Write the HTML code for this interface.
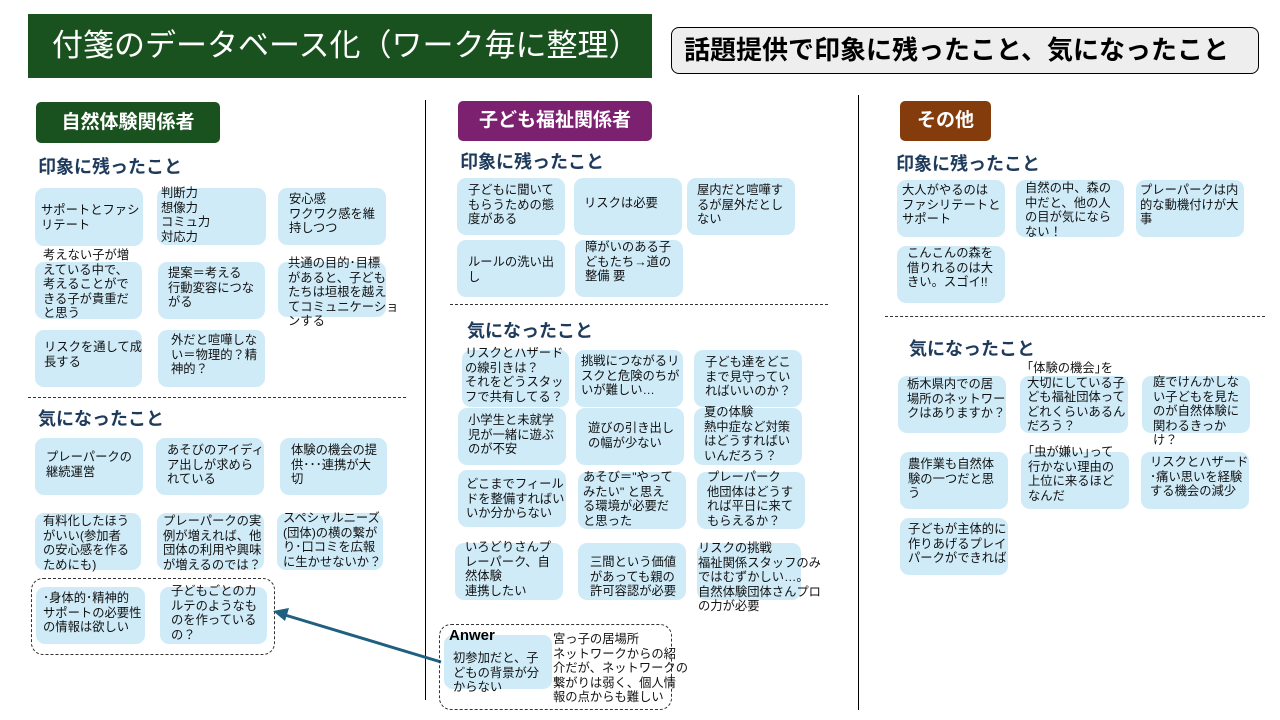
<!DOCTYPE html>
<html><head><meta charset="utf-8"><style>
body{margin:0;width:1280px;height:720px;background:#fff;position:relative;overflow:hidden;font-family:"Liberation Sans","Noto Sans CJK JP",sans-serif;}
.b{position:absolute;background:#cfebf8;border-radius:9px;}
.t{position:absolute;font-size:12.3px;line-height:14.6px;color:#111;white-space:nowrap;}
.h{position:absolute;font-size:18px;font-weight:bold;color:#1f3b5c;}
.cat{position:absolute;color:#fff;font-size:19px;font-weight:bold;border-radius:5px;text-align:center;line-height:41px;}
.dl{position:absolute;border-top:1.5px dashed #333;height:0;}
.vl{position:absolute;width:1px;background:#000;}
.grp{position:absolute;border:1.2px dashed #333;border-radius:12px;}
</style></head><body>
<div style="position:absolute;left:28px;top:14px;width:624px;height:64px;background:#1a521f;color:#fff;font-size:31px;line-height:64px;padding-left:24px;box-sizing:border-box;white-space:nowrap;">付箋のデータベース化（ワーク毎に整理）</div>
<div style="position:absolute;left:671px;top:27px;width:588px;height:47px;background:#eeeeee;border:1.5px solid #000;border-radius:8px;box-sizing:border-box;font-size:26px;font-weight:bold;line-height:44px;padding-left:12px;white-space:nowrap;">話題提供で印象に残ったこと、気になったこと</div>
<div class="vl" style="left:425px;top:100px;height:600px"></div>
<div class="vl" style="left:858px;top:95px;height:615px"></div>

<!-- left -->
<div class="cat" style="left:36px;top:102px;width:184px;height:41px;background:#1a521f">自然体験関係者</div>
<div class="h" style="left:38px;top:153px">印象に残ったこと</div>
<div class="b" style="left:35px;top:188px;width:108px;height:58px"></div><div class="t" style="left:41px;top:203px">サポートとファシ<br>リテート</div>
<div class="b" style="left:157px;top:188px;width:109px;height:57px"></div><div class="t" style="left:161px;top:186px">判断力<br>想像力<br>コミュ力<br>対応力</div>
<div class="b" style="left:278px;top:188px;width:108px;height:57px"></div><div class="t" style="left:289px;top:192px">安心感<br>ワクワク感を維<br>持しつつ</div>
<div class="b" style="left:35px;top:262px;width:107px;height:57px"></div><div class="t" style="left:43px;top:248px">考えない子が増<br>えている中で、<br>考えることがで<br>きる子が貴重だ<br>と思う</div>
<div class="b" style="left:158px;top:262px;width:107px;height:57px"></div><div class="t" style="left:168px;top:266px">提案＝考える<br>行動変容につな<br>がる</div>
<div class="b" style="left:278px;top:262px;width:108px;height:55px"></div><div class="t" style="left:288px;top:256px">共通の目的･目標<br>があると、子ども<br>たちは垣根を越え<br>てコミュニケーショ<br>ンする</div>
<div class="b" style="left:35px;top:330px;width:107px;height:57px"></div><div class="t" style="left:44px;top:340px">リスクを通して成<br>長する</div>
<div class="b" style="left:158px;top:330px;width:107px;height:57px"></div><div class="t" style="left:171px;top:333px">外だと喧嘩しな<br>い＝物理的？精<br>神的？</div>
<div class="dl" style="left:28px;top:397px;width:378px"></div>
<div class="h" style="left:38px;top:405px">気になったこと</div>
<div class="b" style="left:35px;top:438px;width:108px;height:57px"></div><div class="t" style="left:46px;top:450px">プレーパークの<br>継続運営</div>
<div class="b" style="left:156px;top:438px;width:108px;height:57px"></div><div class="t" style="left:167px;top:443px">あそびのアイディ<br>ア出しが求めら<br>れている</div>
<div class="b" style="left:280px;top:438px;width:107px;height:57px"></div><div class="t" style="left:291px;top:443px">体験の機会の提<br>供･･･連携が大<br>切</div>
<div class="b" style="left:35px;top:513px;width:106px;height:57px"></div><div class="t" style="left:43px;top:514px">有料化したほう<br>がいい(参加者<br>の安心感を作る<br>ためにも)</div>
<div class="b" style="left:157px;top:513px;width:107px;height:57px"></div><div class="t" style="left:163px;top:514px">プレーパークの実<br>例が増えれば、他<br>団体の利用や興味<br>が増えるのでは？</div>
<div class="b" style="left:277px;top:513px;width:106px;height:57px"></div><div class="t" style="left:283px;top:511px">スペシャルニーズ<br>(団体)の横の繋が<br>り･口コミを広報<br>に生かせないか？</div>
<div class="grp" style="left:31px;top:578px;width:242px;height:75px"></div>
<div class="b" style="left:36px;top:587px;width:109px;height:57px"></div><div class="t" style="left:43px;top:591px">･身体的･精神的<br>サポートの必要性<br>の情報は欲しい</div>
<div class="b" style="left:160px;top:587px;width:107px;height:57px"></div><div class="t" style="left:171px;top:584px">子どもごとのカ<br>ルテのようなも<br>のを作っている<br>の？</div>
<svg style="position:absolute;left:0;top:0" width="1280" height="720"><line x1="441" y1="662" x2="285" y2="615" stroke="#1f5f80" stroke-width="3"/><polygon points="273,611 289,608 285,621" fill="#1f5f80"/></svg>

<!-- middle -->
<div class="cat" style="left:458px;top:101px;width:194px;height:40px;background:#7b2170;line-height:40px">子ども福祉関係者</div>
<div class="h" style="left:460px;top:148px">印象に残ったこと</div>
<div class="b" style="left:457px;top:178px;width:108px;height:57px"></div><div class="t" style="left:468px;top:183px">子どもに聞いて<br>もらうための態<br>度がある</div>
<div class="b" style="left:574px;top:178px;width:108px;height:57px"></div><div class="t" style="left:584px;top:196px">リスクは必要</div>
<div class="b" style="left:687px;top:178px;width:108px;height:57px"></div><div class="t" style="left:697px;top:183px">屋内だと喧嘩す<br>るが屋外だとし<br>ない</div>
<div class="b" style="left:457px;top:240px;width:108px;height:57px"></div><div class="t" style="left:468px;top:255px">ルールの洗い出<br>し</div>
<div class="b" style="left:575px;top:240px;width:108px;height:57px"></div><div class="t" style="left:585px;top:240px">障がいのある子<br>どもたち→道の<br>整備 要</div>
<div class="dl" style="left:450px;top:304px;width:378px"></div>
<div class="h" style="left:467px;top:317px">気になったこと</div>
<div class="b" style="left:462px;top:350px;width:107px;height:57px"></div><div class="t" style="left:465px;top:346px">リスクとハザード<br>の線引きは？<br>それをどうスタッ<br>フで共有してる？</div>
<div class="b" style="left:575px;top:350px;width:108px;height:57px"></div><div class="t" style="left:581px;top:354px">挑戦につながるリ<br>スクと危険のちが<br>いが難しい…</div>
<div class="b" style="left:694px;top:350px;width:108px;height:57px"></div><div class="t" style="left:705px;top:355px">子ども達をどこ<br>まで見守ってい<br>ればいいのか？</div>
<div class="b" style="left:458px;top:408px;width:108px;height:57px"></div><div class="t" style="left:468px;top:413px">小学生と未就学<br>児が一緒に遊ぶ<br>のが不安</div>
<div class="b" style="left:576px;top:408px;width:108px;height:57px"></div><div class="t" style="left:588px;top:421px">遊びの引き出し<br>の幅が少ない</div>
<div class="b" style="left:694px;top:408px;width:108px;height:57px"></div><div class="t" style="left:704px;top:405px">夏の体験<br>熱中症など対策<br>はどうすればい<br>いんだろう？</div>
<div class="b" style="left:458px;top:470px;width:108px;height:57px"></div><div class="t" style="left:466px;top:477px">どこまでフィール<br>ドを整備すればい<br>いか分からない</div>
<div class="b" style="left:578px;top:472px;width:108px;height:57px"></div><div class="t" style="left:583px;top:470px">あそび＝"やって<br>みたい" と思え<br>る環境が必要だ<br>と思った</div>
<div class="b" style="left:697px;top:472px;width:108px;height:57px"></div><div class="t" style="left:707px;top:470px">プレーパーク<br>他団体はどうす<br>れば平日に来て<br>もらえるか？</div>
<div class="b" style="left:455px;top:543px;width:108px;height:57px"></div><div class="t" style="left:465px;top:540px">いろどりさんプ<br>レーパーク、自<br>然体験<br>連携したい</div>
<div class="b" style="left:578px;top:543px;width:108px;height:57px"></div><div class="t" style="left:590px;top:555px">三間という価値<br>があっても親の<br>許可容認が必要</div>
<div class="b" style="left:697px;top:543px;width:104px;height:57px"></div><div class="t" style="left:698px;top:541px">リスクの挑戦<br>福祉関係スタッフのみ<br>ではむずかしい…。<br>自然体験団体さんプロ<br>の力が必要</div>
<div class="grp" style="left:439px;top:624px;width:231px;height:84px"></div>
<div class="b" style="left:444px;top:635px;width:108px;height:54px"></div><div class="t" style="left:453px;top:651px">初参加だと、子<br>どもの背景が分<br>からない</div>
<div style="position:absolute;left:449px;top:627px;font-size:15px;font-weight:bold;line-height:17px;font-family:'Liberation Sans Narrow','Liberation Sans',sans-serif;">Anwer</div>
<div class="t" style="left:553px;top:632px">宮っ子の居場所<br>ネットワークからの紹<br>介だが、ネットワークの<br>繋がりは弱く、個人情<br>報の点からも難しい</div>

<!-- right -->
<div class="cat" style="left:900px;top:101px;width:91px;height:40px;background:#843c0c;line-height:40px">その他</div>
<div class="h" style="left:896px;top:150px">印象に残ったこと</div>
<div class="b" style="left:897px;top:180px;width:108px;height:57px"></div><div class="t" style="left:902px;top:183px">大人がやるのは<br>ファシリテートと<br>サポート</div>
<div class="b" style="left:1016px;top:180px;width:108px;height:57px"></div><div class="t" style="left:1025px;top:181px">自然の中、森の<br>中だと、他の人<br>の目が気になら<br>ない！</div>
<div class="b" style="left:1136px;top:180px;width:108px;height:57px"></div><div class="t" style="left:1140px;top:183px">プレーパークは内<br>的な動機付けが大<br>事</div>
<div class="b" style="left:897px;top:246px;width:108px;height:57px"></div><div class="t" style="left:907px;top:246px">こんこんの森を<br>借りれるのは大<br>きい。スゴイ!!</div>
<div class="dl" style="left:885px;top:316px;width:380px"></div>
<div class="h" style="left:909px;top:335px">気になったこと</div>
<div class="b" style="left:898px;top:376px;width:108px;height:57px"></div><div class="t" style="left:907px;top:377px">栃木県内での居<br>場所のネットワー<br>クはありますか？</div>
<div class="b" style="left:1020px;top:376px;width:108px;height:57px"></div><div class="t" style="left:1027px;top:361px">｢体験の機会｣を<br>大切にしている子<br>ども福祉団体って<br>どれくらいあるん<br>だろう？</div>
<div class="b" style="left:1142px;top:376px;width:108px;height:57px"></div><div class="t" style="left:1153px;top:375px">庭でけんかしな<br>い子どもを見た<br>のが自然体験に<br>関わるきっか<br>け？</div>
<div class="b" style="left:900px;top:452px;width:108px;height:57px"></div><div class="t" style="left:908px;top:457px">農作業も自然体<br>験の一つだと思<br>う</div>
<div class="b" style="left:1021px;top:452px;width:108px;height:57px"></div><div class="t" style="left:1028px;top:445px">｢虫が嫌い｣って<br>行かない理由の<br>上位に来るほど<br>なんだ</div>
<div class="b" style="left:1141px;top:452px;width:108px;height:57px"></div><div class="t" style="left:1150px;top:455px">リスクとハザード<br>･痛い思いを経験<br>する機会の減少</div>
<div class="b" style="left:900px;top:518px;width:108px;height:57px"></div><div class="t" style="left:908px;top:522px">子どもが主体的に<br>作りあげるプレイ<br>パークができれば</div>
</body></html>
